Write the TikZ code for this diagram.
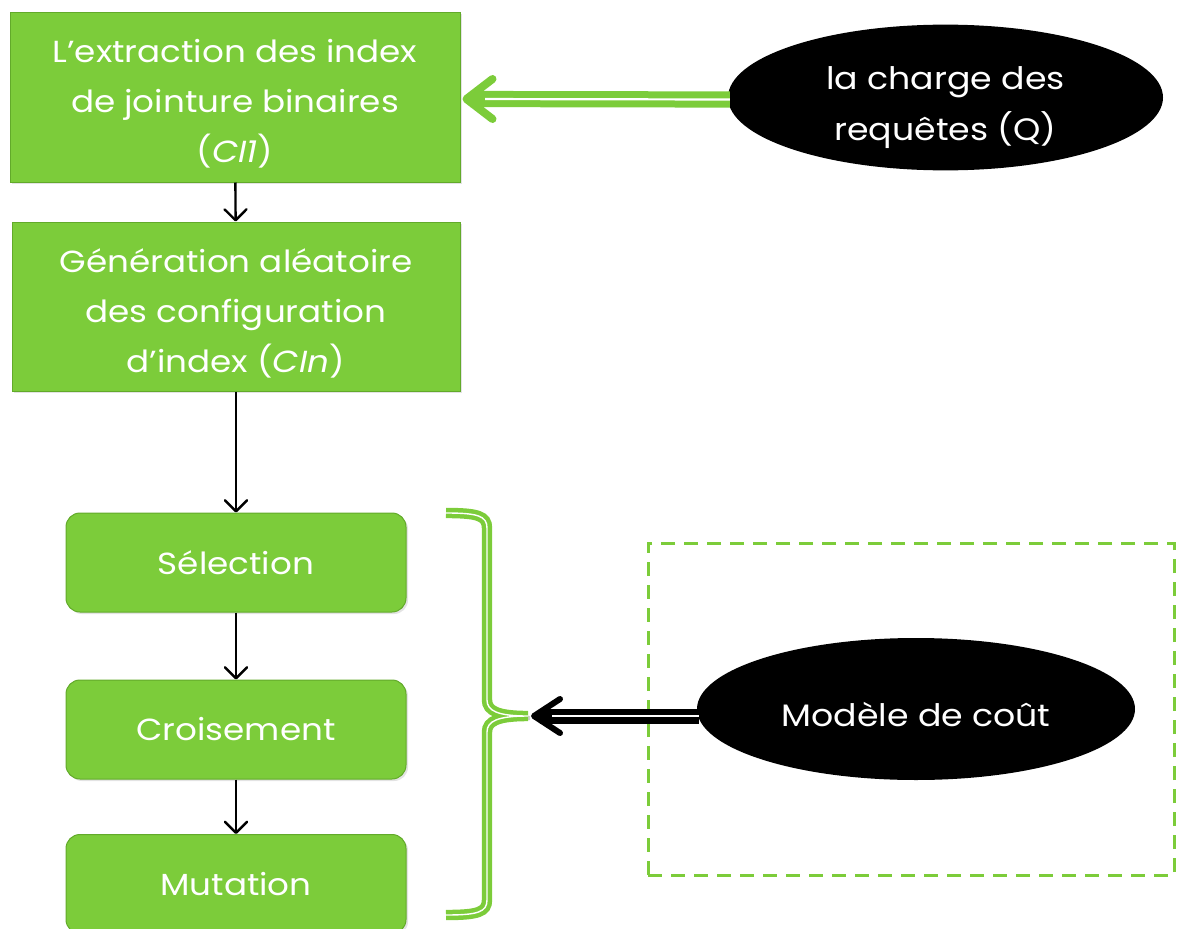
\documentclass[tikz,border=0pt]{standalone}
\usepackage{fontspec}
\setmainfont{Poppins}[FakeStretch=1.12]
\usetikzlibrary{arrows.meta,shapes.geometric,shadows,calc}

\definecolor{leaf}{RGB}{124,204,58}
\definecolor{leafdark}{RGB}{98,170,42}

% extra headroom on a first line, to sit a text block a little lower
\newcommand{\lowerby}[1]{\rule{0pt}{#1}}

\begin{document}
\begin{tikzpicture}[x=1pt,y=-1pt,
  boxshadow/.style={drop shadow={opacity=0.22,shadow xshift=2pt,shadow yshift=-2pt}},
  stepbox/.style={draw=leafdark,line width=1pt,fill=leaf,text=white,align=center,
    inner sep=0pt,boxshadow,font=\fontsize{30.5}{50}\selectfont},
  roundbox/.style={stepbox,rounded corners=14pt,minimum width=340pt,minimum height=99pt},
  blob/.style={ellipse,fill=black,text=white,align=center,inner sep=0pt,
    font=\fontsize{31}{51}\selectfont},
  flow/.style={black,line width=2.4pt,-{Straight Barb[length=11pt,width=22pt,round]}},
  gshaft/.style={draw=leaf,line width=7pt,double=white,double distance=2.2pt,
    preaction={draw=gray!45,line width=4pt,transform canvas={yshift=-4pt}}},
  kshaft/.style={draw=black,line width=6.5pt,double=white,double distance=2pt,
    preaction={draw=gray!45,line width=4pt,transform canvas={yshift=-4pt}}},
  gtip/.style={leaf,line width=8pt,-{Straight Barb[length=26pt,width=40pt,round]}},
  ktip/.style={black,line width=6pt,-{Straight Barb[length=26pt,width=34pt,round]}},
  bracepen/.style={draw=leaf,line width=4.5pt,double=white,double distance=1.4pt,
    preaction={draw=gray!40,line width=4pt,transform canvas={xshift=2pt,yshift=-2pt}}},
  framepen/.style={draw=leaf,line width=3pt,dash pattern=on 14pt off 9pt},
]
\useasboundingbox (0,0) rectangle (1179,929);
\begin{scope}
\clip (0,0) rectangle (1179,929);

% main column
\node[stepbox,minimum width=450pt,minimum height=170pt] (b1) at (235,97)
  {\lowerby{37pt}L’extraction des index\\de jointure binaires\\(\textit{CI1})};
\node[stepbox,minimum width=448pt,minimum height=169pt] (b2) at (236,306.5)
  {\lowerby{38pt}Génération aléatoire\\des configuration\\d’index (\textit{CIn})};

% genetic loop
\node[roundbox] (sel) at (236,562.5) {Sélection};
\node[roundbox] (cro) at (236,729.5) {Croisement};
\node[roundbox] (mut) at (236,884) {Mutation};

\draw[flow] (b1) -- (b2);
\draw[flow] (b2) -- (sel);
\draw[flow] (sel) -- (cro);
\draw[flow] (cro) -- (mut);

% query workload
\node[blob,minimum width=435pt,minimum height=139pt] (q) at (945.5,97.5)
  {\lowerby{44pt}la charge des\\requêtes (Q)};
\draw[gshaft,shorten >=10pt] ($(q.west)+(2,2)$) -- ($(b1.east)+(0,2)$);
\draw[gtip] ($(b1.east)+(24,2)$) -- ($(b1.east)+(2,2)$);

% cost model frame
\node[framepen,minimum width=526pt,minimum height=332pt,inner sep=0pt] (frame) at (911,709) {};
\node[blob,minimum width=438pt,minimum height=142pt] (cost) at (916,709)
  {\lowerby{35pt}Modèle de coût};

% brace around the loop
\coordinate (tip) at (528,716);
\draw[bracepen] (446,513) .. controls (478,513) and (487,516) .. (487,528)
  -- (487,700) .. controls (487,711) and (498,716) .. (tip)
  .. controls (498,716) and (487,721) .. (487,732)
  -- (487,900) .. controls (487,912) and (478,915) .. (446,915);

\draw[kshaft,shorten >=12pt] ($(cost.west)+(2,7)$) -- (tip);
\draw[ktip] ($(tip)+(24,0)$) -- ($(tip)+(3,0)$);
\end{scope}
\end{tikzpicture}
\end{document}
